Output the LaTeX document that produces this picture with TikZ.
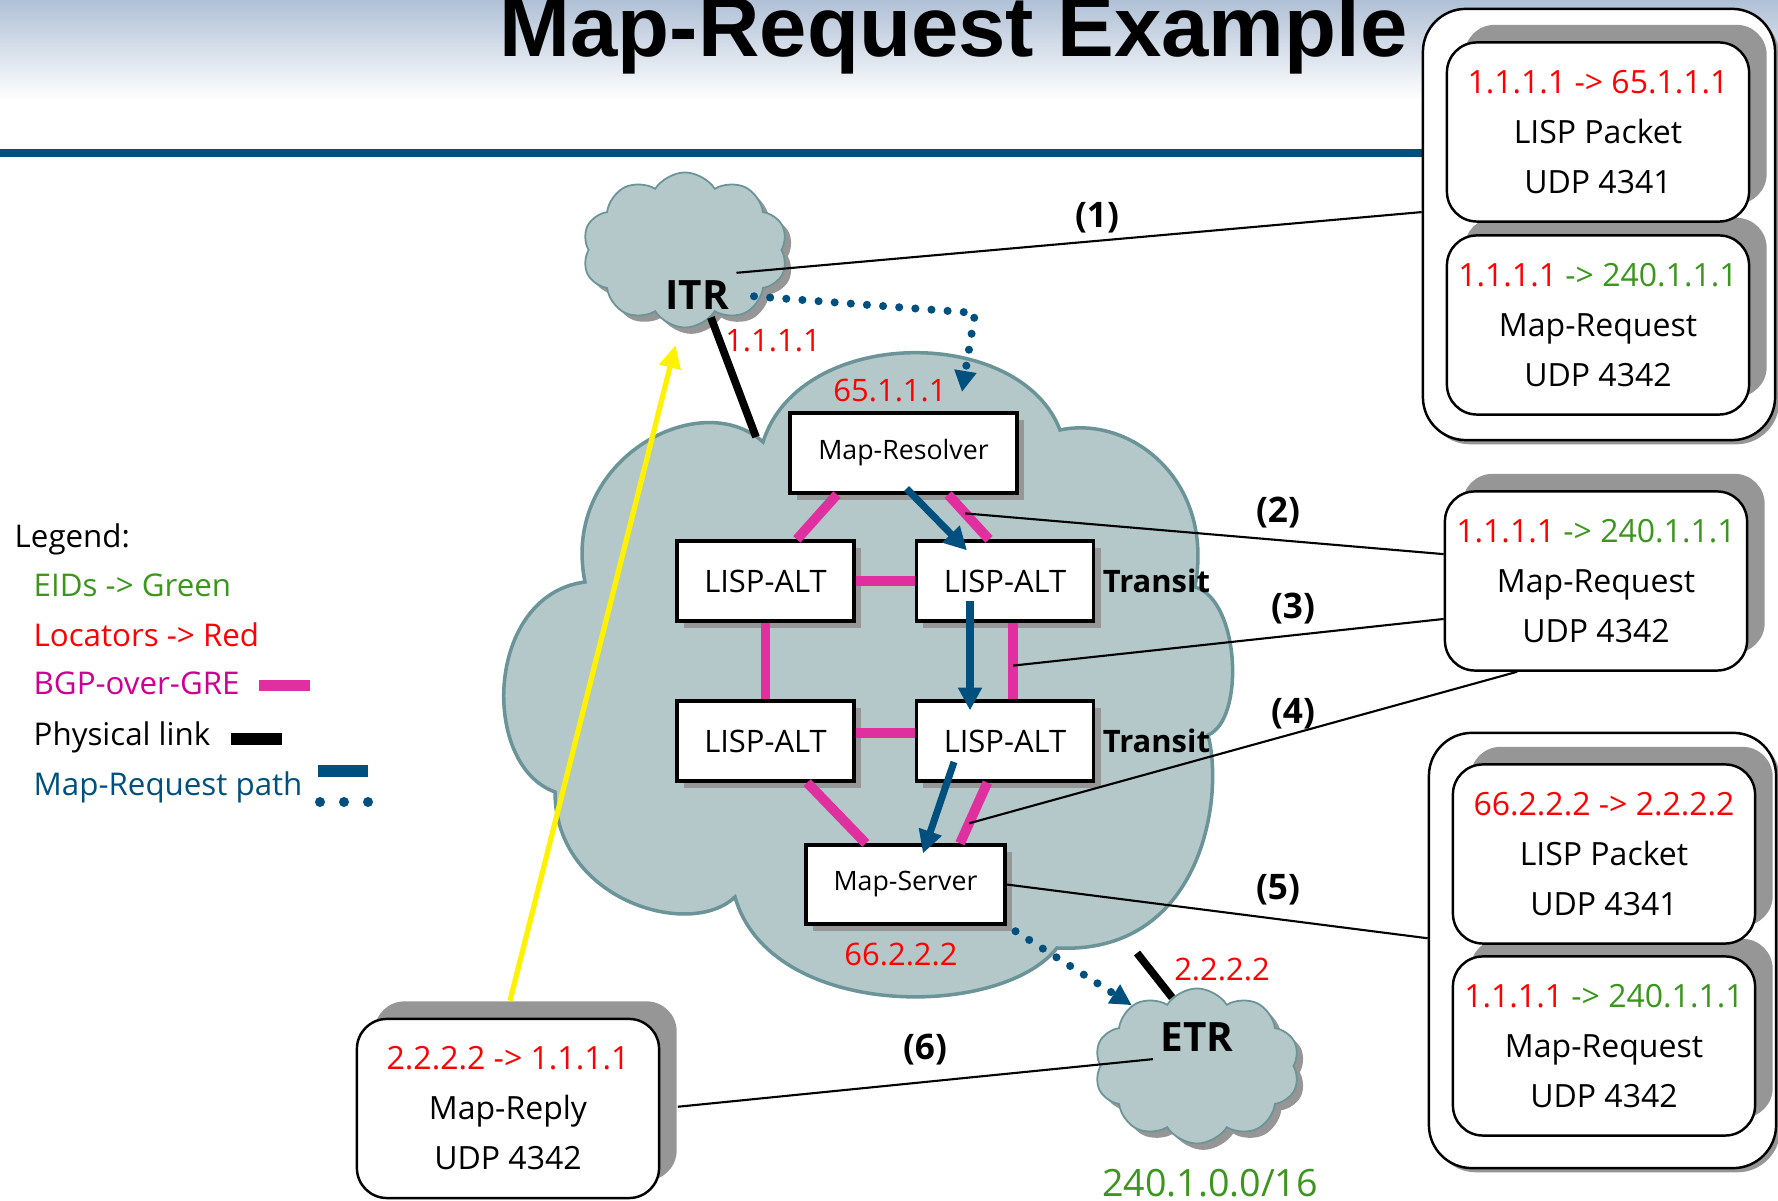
\documentclass[tikz,border=0pt]{standalone}
\usepackage{fontspec}
\setmainfont{Open Sans}
\newfontfamily\headfont{Liberation Sans}
\usepackage{xcolor}
\usetikzlibrary{shapes.symbols}
\usetikzlibrary{shadows}
\usetikzlibrary{arrows.meta}
\usetikzlibrary{calc}

\definecolor{locred}{RGB}{255,0,0}
\definecolor{eidgreen}{RGB}{60,150,30}
\definecolor{gremag}{RGB}{224,48,160}
\definecolor{bgptext}{RGB}{205,0,145}
\definecolor{reqblue}{RGB}{0,80,127}
\definecolor{cloudfill}{RGB}{180,200,202}
\definecolor{cloudline}{RGB}{106,148,152}
\definecolor{shadowgrey}{RGB}{150,150,150}
\definecolor{headtop}{RGB}{176,192,214}

\tikzset{
  altbox/.style={draw,fill=white,line width=0.9pt,minimum width=1.77cm,minimum height=0.8cm,inner sep=0pt,
    font=\fontsize{8.8}{10}\selectfont,general shadow={fill=shadowgrey,shadow xshift=2pt,shadow yshift=-2pt}},
  srvbox/.style={altbox,font=\fontsize{7.6}{9}\selectfont},
  pktbox/.style={draw,fill=white,line width=0.7pt,rounded corners=0.3cm,minimum width=3.02cm,minimum height=1.79cm,
    align=center,inner sep=0pt,font=\fontsize{9.1}{14.2}\selectfont,
    general shadow={fill=shadowgrey,shadow xshift=5pt,shadow yshift=5pt}},
  outerbox/.style={draw,fill=white,line width=0.7pt,rounded corners=0.43cm,
    general shadow={fill=shadowgrey,shadow xshift=1.2pt,shadow yshift=-1.2pt}},
  smallcloud/.style={cloud,cloud puffs=10,cloud puff arc=115,draw=cloudline,line width=0.5pt,fill=cloudfill,
    minimum width=2.05cm,minimum height=1.55cm,general shadow={fill=shadowgrey,shadow xshift=1.8pt,shadow yshift=-1.8pt}},
  bigcloud/.style={draw=cloudline,line width=1pt,fill=cloudfill},
  bgp/.style={gremag,line width=2.8pt},
  phys/.style={black,line width=2.2pt},
  req/.style={reqblue,line width=2pt,-{Triangle[length=6.5pt,width=6.5pt]}},
  reqdot/.style={reqblue,line width=2.3pt,line cap=round,dash pattern=on 0pt off 4.6pt,-{Triangle[length=6pt,width=6pt]}},
  replyarr/.style={yellow,line width=1.5pt,-{Triangle[length=6.5pt,width=6pt]}},
  callout/.style={black,line width=0.6pt},
  stepnum/.style={font=\bfseries\fontsize{10}{12}\selectfont},
  addr/.style={text=locred,font=\fontsize{8.8}{10}\selectfont},
  routerlbl/.style={font=\bfseries\fontsize{11.5}{13}\selectfont,inner sep=2pt},
  transitlbl/.style={font=\bfseries\fontsize{8.8}{10}\selectfont,inner sep=2pt,anchor=west},
  legtext/.style={anchor=base west,inner sep=0pt,font=\fontsize{8.9}{11}\selectfont}
}

\begin{document}
\begin{tikzpicture}[x=0.01cm,y=-0.01cm]
\useasboundingbox (0,0) rectangle (1778,1201);
\shade[top color=headtop,bottom color=white] (0,0) rectangle (1778,100);
\fill[reqblue] (0,149) rectangle (1430,157);
\node[anchor=base west,inner sep=0pt] (title) at (499,57) {\headfont\bfseries\fontsize{24.2}{26}\selectfont Map-Request Example};

\node[legtext] (leghead) at (14,548) {Legend:};
\node[legtext,text=eidgreen] (legeid) at (33,597) {EIDs -> Green};
\node[legtext,text=locred] (legloc) at (33,647) {Locators -> Red};
\node[legtext,text=bgptext] (legbgp) at (33,695) {BGP-over-GRE};
\node[legtext] (legphys) at (33,746) {Physical link};
\node[legtext,text=reqblue] (legreq) at (33,796) {Map-Request path};
\fill[gremag] (259,680) rectangle (310,691);
\fill[black] (231,733) rectangle (282,745);
\fill[reqblue] (318,765) rectangle (368,777);
\foreach \dx in {320,344,368}
  \fill[reqblue] (\dx,802) circle (5);

\filldraw[bigcloud] (763,442)
  .. controls (800,325) and (1020,325) .. (1060,430)
  .. controls (1130,415) and (1215,480) .. (1195,587)
  .. controls (1240,600) and (1245,720) .. (1208,735)
  .. controls (1225,800) and (1200,955) .. (1057,948)
  .. controls (1000,1020) and (770,1020) .. (735,897)
  .. controls (690,940) and (555,900) .. (555,792)
  .. controls (480,765) and (485,595) .. (585,582)
  .. controls (560,460) and (700,385) .. cycle;
\coordinate (cloudlink) at (756,437);
\coordinate (etrlink) at (1137,953);
\coordinate (rtip) at (962,392);
\coordinate (bend1) at (975,313);

\node[smallcloud] (itr) at (685,250) {};
\node[routerlbl] (itrlbl) at (697,295) {ITR};
\node[smallcloud] (etr) at (1197,1066) {};
\node[routerlbl] (etrlbl) at (1197,1037) {ETR};
\node[addr] (itraddr) at (773,341) {1.1.1.1};
\node[addr] (mraddr) at (890,391) {65.1.1.1};
\node[addr] (msaddr) at (901,955) {66.2.2.2};
\node[addr] (etraddr) at (1222,970) {2.2.2.2};
\node[text=eidgreen,font=\fontsize{10.7}{12}\selectfont] (eidpfx) at (1210,1183) {240.1.0.0/16};

\node[srvbox,minimum width=2.27cm] (mr) at (903.5,453) {Map-Resolver};
\node[altbox] (tl) at (765.5,581) {LISP-ALT};
\node[altbox] (tr) at (1005,581) {LISP-ALT};
\node[altbox] (bl) at (765.5,741) {LISP-ALT};
\node[altbox] (br) at (1005,741) {LISP-ALT};
\node[srvbox,minimum width=1.99cm,minimum height=0.79cm] (ms) at (905.5,884.5) {Map-Server};
\node[transitlbl] (trtransit) at (tr.east) {Transit};
\node[transitlbl] (brtransit) at (br.east) {Transit};

\draw[bgp] (mr.212) -- (tl.53);
\draw[bgp] (mr.317) -- coordinate[pos=0.42] (c2) (tr.111);
\draw[bgp] (tl.east) -- (tr.west);
\draw[bgp] (tl.south) -- (bl.north);
\draw[bgp] (tr.281) -- coordinate[pos=0.56] (c3) (br.79);
\draw[bgp] (bl.5) -- (br.175);
\draw[bgp] (bl.315) -- (ms.134);
\draw[bgp] (br.247) -- coordinate[pos=0.67] (c4) (ms.37);

\draw[phys] (itr.291) -- (cloudlink);
\draw[phys] (etrlink) -- (etr.110);

\draw[req] ($(mr.south)+(3,-6)$) -- ($(tr.north)+(-38,11)$);
\draw[req] ($(tr.center)+(-35,20)$) -- ($(br.north)+(-35,11)$);
\draw[req] ($(br.center)+(-51,21)$) -- ($(ms.north)+(17.5,10)$);
\draw[reqdot,shorten <=5pt] (itrlbl.east) -- (bend1) -- (rtip);
\draw[reqdot,shorten <=3pt] (ms.south east) -- (etr.137);

\node[pktbox] (reply) at (508,1108.5) {\textcolor{locred}{2.2.2.2 -> 1.1.1.1}\\Map-Reply\\UDP 4342};
\draw[replyarr] ($(reply.north)+(2,-17)$) -- ($(itr.263)+(0,18)$);

\node[outerbox,minimum width=3.52cm,minimum height=4.31cm] (outer1) at (1599,224.5) {};
\node[pktbox] (pkt2) at (1598,325) {\textcolor{locred}{1.1.1.1} \textcolor{eidgreen}{-> 240.1.1.1}\\Map-Request\\UDP 4342};
\node[pktbox] (pkt1) at (1598,132) {\textcolor{locred}{1.1.1.1 -> 65.1.1.1}\\LISP Packet\\UDP 4341};
\node[pktbox] (pkt3) at (1596,581) {\textcolor{locred}{1.1.1.1} \textcolor{eidgreen}{-> 240.1.1.1}\\Map-Request\\UDP 4342};
\node[outerbox,minimum width=3.47cm,minimum height=4.35cm] (outer2) at (1602.5,950.5) {};
\node[pktbox] (pkt5) at (1604,1046) {\textcolor{locred}{1.1.1.1} \textcolor{eidgreen}{-> 240.1.1.1}\\Map-Request\\UDP 4342};
\node[pktbox] (pkt4) at (1604,854) {\textcolor{locred}{66.2.2.2 -> 2.2.2.2}\\LISP Packet\\UDP 4341};

\draw[callout] (itrlbl.north east) -- (outer1.176);
\draw[callout] (c2) -- (pkt3.170);
\draw[callout] (c3) -- (pkt3.194);
\draw[callout] (c4) -- (pkt3.229);
\draw[callout] (ms.east) -- (outer2.176);
\draw[callout,shorten >=5pt] (etrlbl.south west) -- (reply.east);
\node[stepnum] (s1) at (1097,218) {(1)};
\node[stepnum] (s2) at (1278,513) {(2)};
\node[stepnum] (s3) at (1293,609) {(3)};
\node[stepnum] (s4) at (1293,714) {(4)};
\node[stepnum] (s5) at (1278,890) {(5)};
\node[stepnum] (s6) at (925,1050) {(6)};
\end{tikzpicture}
\end{document}
